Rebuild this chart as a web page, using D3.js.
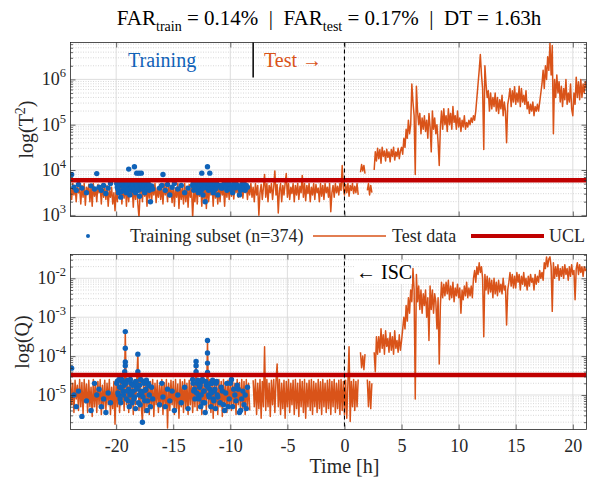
<!DOCTYPE html>
<html><head><meta charset="utf-8">
<script src="https://cdn.jsdelivr.net/npm/d3@7"></script>
<style>
body{margin:0;background:#fff}
svg text{font-family:"Liberation Serif","Tinos","DejaVu Serif",serif}
</style>
</head><body>
<svg id="chart" width="589" height="483" font-family="Liberation Serif, Tinos, DejaVu Serif, serif"></svg>
<script>
// ---- data (log10 values), one row per hour ----
const sampleStart = -24;      // h
const sampleStep = 0.1;       // h
const logT2 = [
3.62,3.35,3.7,3.45,3.65,3.3,3.68,3.5,3.6,3.25,
3.66,3.4,3.7,3.22,3.62,3.48,3.68,3.3,3.64,3.2,
3.7,3.42,3.6,3.3,3.68,3.5,3.64,3.25,3.7,3.4,
3.6,3.35,3.66,3.2,3.55,3.4,3.62,3.25,3.5,3.1,
3.6,3.3,3.68,3.45,3.7,3.25,3.64,3.38,3.7,3.2,
3.66,3.3,3.7,3.45,3.62,3.18,3.68,3.35,3.7,3.25,
2.95,3.5,3.68,3.3,3.7,3.42,3.62,3.2,3.66,3.38,
3.7,3.3,3.65,3.45,3.7,3.28,3.6,3.4,3.68,3.35,
3.62,3.25,3.7,3.45,3.66,3.3,3.7,3.4,3.6,3.28,
3.68,3.2,3.6,3.4,3.7,3.15,3.66,3.35,3.62,3.25,
3.7,3.3,3.64,3.18,3.68,3.4,3.6,2.96,3.5,3.3,
3.7,3.25,3.66,3.42,3.7,3.2,3.62,3.35,3.68,3.15,
3.7,3.3,3.62,3.45,3.68,3.2,3.7,3.38,3.6,3.25,
3.66,3.3,3.7,3.45,3.62,3.2,3.68,3.4,3.7,3.35,
3.65,3.42,3.7,3.36,3.66,3.5,3.7,3.4,3.62,3.45,
3.7,3.38,3.66,3.5,3.7,3.35,3.64,3.45,3.7,3.4,
3.62,3.3,3.7,3.45,3.66,3.0,3.5,3.68,3.35,3.62,
3.9,3.4,3.7,3.3,3.66,3.5,3.7,3.35,3.62,3.98,
3.45,3.68,3.05,3.55,3.7,3.3,3.66,3.45,3.7,3.92,
3.4,3.7,3.35,3.62,3.48,3.7,3.3,3.66,3.45,3.7,
3.35,3.64,3.5,3.88,3.4,3.7,3.32,3.66,3.48,3.7,
3.3,3.62,3.45,3.7,3.35,3.68,3.5,3.6,3.3,3.7,
3.42,3.66,3.35,3.7,3.5,3.62,3.4,3.7,3.08,3.5,
3.66,3.4,3.7,3.5,3.64,3.45,3.7,3.55,4.1,3.6,
3.45,3.68,3.5,3.7,3.42,3.66,3.55,3.7,3.48,3.64,
3.5,3.7,3.45,null,3.95,4.12,3.98,4.1,3.92,null,
3.55,3.7,3.45,3.66,3.5,null,4.0,4.4,4.2,4.48,
4.25,4.45,4.15,4.5,4.3,4.42,4.2,4.46,4.28,4.4,
4.18,4.45,4.3,4.5,4.22,4.4,4.3,4.48,4.25,4.42,
4.5,4.35,4.7,4.5,4.9,4.7,5.1,4.8,5.0,5.9,
5.5,5.2,3.9,5.85,5.3,5.0,5.25,4.8,5.15,4.9,
5.2,4.85,5.1,4.7,5.25,4.95,4.4,5.3,4.9,5.15,
4.8,5.0,4.6,4.1,4.95,5.3,4.9,5.35,5.0,5.2,
4.85,5.35,5.0,5.25,4.9,5.4,5.05,5.2,4.9,5.3,
4.95,5.15,4.85,5.1,4.95,5.2,4.9,5.05,4.95,5.1,
5.0,5.15,5.05,5.2,5.1,5.3,5.6,5.9,6.2,6.55,
6.1,5.8,4.45,6.3,5.9,5.6,5.75,5.3,5.7,5.35,
5.6,5.4,5.7,5.3,5.6,5.25,5.55,5.35,5.65,5.2,
5.5,5.3,4.6,5.45,5.6,5.8,5.4,5.75,5.5,5.84,
5.45,5.7,5.5,5.85,5.4,5.8,5.5,5.65,5.45,5.75,
5.35,5.5,5.25,5.45,5.3,5.5,5.2,5.4,5.3,5.45,
5.3,5.5,5.7,5.9,6.2,5.8,6.3,6.0,6.5,6.2,
6.8,6.1,6.75,4.8,6.0,5.6,6.1,5.7,5.95,5.5,
5.85,5.4,5.8,5.55,6.0,5.45,5.7,5.5,5.9,5.35,
5.2,5.7,5.45,6.05,5.6,5.95,5.55,6.0,5.6,5.9,
5.7,5.95,5.8
];
const logQ = [
-4.6,-5.25,-4.7,-5.45,-4.62,-5.1,-4.75,-5.4,-4.6,-5.3,
-4.68,-5.5,-4.6,-5.2,-4.72,-5.45,-4.62,-5.3,-4.8,-5.55,
-4.6,-5.3,-4.7,-5.45,-4.65,-5.25,-4.6,-5.5,-4.75,-5.35,
-4.62,-5.4,-4.7,-5.25,-4.6,-5.5,-4.8,-5.35,-4.65,-5.75,
-4.6,-5.3,-4.65,-5.45,-4.6,-5.2,-4.7,-5.4,-3.37,-5.25,
-4.62,-5.45,-4.6,-5.3,-4.7,-5.5,-4.6,-5.25,-4.65,-3.95,
-5.4,-4.62,-5.3,-5.7,-4.6,-5.45,-4.7,-5.3,-4.6,-5.5,
-4.65,-5.35,-4.6,-5.55,-4.7,-5.25,-4.62,-5.45,-4.75,-5.3,
-4.6,-5.5,-4.68,-5.3,-4.6,-5.85,-4.7,-5.4,-4.62,-5.25,
-4.65,-5.5,-4.6,-5.35,-4.72,-5.6,-4.6,-5.3,-4.66,-5.45,
-4.6,-5.35,-4.7,-5.5,-4.62,-5.25,-4.6,-5.45,-4.7,-5.3,
-4.1,-5.4,-4.62,-5.3,-4.6,-5.5,-4.7,-5.25,-4.62,-5.4,
-3.6,-5.3,-4.6,-5.45,-4.7,-5.6,-4.62,-5.35,-4.66,-5.5,
-4.6,-5.3,-4.65,-5.55,-4.6,-5.25,-4.7,-5.45,-4.62,-5.35,
-4.65,-5.4,-4.6,-5.3,-4.7,-5.5,-4.6,-5.25,-4.68,-5.45,
-4.6,-5.35,-4.65,-5.5,-4.6,-5.3,-4.7,-5.4,null,null,
-4.62,-5.3,-4.6,-5.5,-4.7,-5.35,-4.6,-5.6,-4.65,-5.3,
-3.76,-5.4,-4.6,-5.3,-4.7,-5.55,-4.62,-5.25,-4.6,-5.45,
-4.65,-4.2,-5.3,-4.6,-5.5,-4.7,-5.35,-4.62,-5.6,-4.65,
-5.3,-4.6,-5.45,-4.7,-5.25,-4.62,-5.5,-4.6,-5.35,-4.7,
-5.55,-4.6,-5.3,-4.65,-5.45,-4.6,-5.6,-4.7,-5.3,-4.62,
-5.4,-4.6,-5.5,-4.65,-5.3,-4.7,-5.45,-4.6,-5.35,-4.66,
-5.5,-4.6,-5.3,-4.7,-5.45,-4.62,-5.35,-4.6,-5.5,-4.65,
-5.3,-4.6,-5.45,-4.7,-5.35,-4.62,-5.5,-4.6,-5.4,-4.65,
-5.5,-4.62,-5.6,-4.7,-3.76,-5.68,-4.65,-5.3,-4.6,-5.4,
-4.65,-5.3,-4.6,null,-3.9,-4.3,-4.0,-4.35,-3.95,null,
-4.6,-5.3,-4.65,-5.35,-4.7,null,-3.9,-4.4,-3.5,-3.95,
-3.5,-3.9,-3.3,-3.8,-3.45,-3.95,-3.35,-3.75,-3.55,-3.9,
-3.4,-3.85,-3.5,-3.95,-3.35,-3.8,-3.6,-3.9,-3.45,-3.85,
-3.6,-3.3,-3.0,-3.3,-2.7,-3.1,-2.5,-2.9,-2.3,-2.6,
-1.75,-2.3,-5.1,-1.9,-2.6,-2.2,-2.8,-2.3,-2.9,-2.4,
-2.7,-2.3,-3.0,-2.5,-3.6,-2.2,-2.8,-2.3,-2.9,-2.4,
-2.6,-3.3,-2.5,-4.2,-2.7,-2.1,-2.5,-2.15,-2.45,-2.1,
-2.4,-2.05,-2.55,-2.2,-2.5,-2.1,-2.6,-2.25,-2.45,-2.15,
-2.5,-2.25,-2.9,-2.3,-2.55,-2.2,-2.45,-2.1,-2.5,-2.25,
-2.45,-2.2,-2.5,-2.0,-1.8,-2.1,-1.7,-1.9,-1.6,-1.85,
-1.7,-2.0,-3.5,-1.9,-2.3,-1.95,-2.4,-2.0,-2.35,-2.05,
-2.5,-2.0,-2.4,-2.1,-2.45,-2.05,-2.35,-2.15,-2.4,-2.0,
-2.3,-2.2,-3.2,-2.3,-2.1,-1.85,-2.2,-1.9,-2.25,-1.95,
-2.25,-1.85,-2.1,-1.9,-2.3,-1.95,-2.15,-1.85,-2.2,-2.0,
-2.3,-1.95,-2.2,-1.9,-2.1,-2.0,-2.3,-1.9,-2.15,-1.95,
-2.1,-1.8,-2.0,-1.85,-2.05,-1.6,-1.75,-1.45,-1.7,-1.5,
-1.45,-1.7,-2.85,-1.6,-2.0,-1.7,-1.95,-1.65,-2.05,-1.75,
-1.95,-1.7,-2.0,-1.65,-1.9,-1.75,-2.05,-1.7,-1.95,-1.65,
-1.9,-1.8,-2.55,-1.75,-1.6,-1.9,-1.65,-1.85,-1.7,-1.95,
-1.7,-1.8,-1.75
];
const trainTime = [
-23.9,-23.7,-23.5,-23.3,-23.0,-22.6,-22.2,-21.9,-21.7,-21.5,-21.3,-21.1,-20.9,-20.7,-20.5,
-19.9,-19.8,-19.7,-19.6,-19.5,-19.4,-19.3,-19.25,-19.2,-19.2,-19.2,-19.2,-19.1,-19.0,-18.9,-18.85,-18.8,-18.7,-18.6,-18.5,-18.4,-18.35,-18.3,-18.2,-18.1,-18.1,-18.0,-17.95,-17.9,-17.8,-17.7,-17.6,-17.5,-17.4,-17.3,-17.2,-17.1,-17.0,-16.9,-16.8,
-16.2,-16.0,-15.9,-15.7,-15.5,-15.3,-15.1,-14.9,-14.6,-14.3,-14.0,-13.7,
-13.3,-13.2,-13.1,-13.0,-13.0,-13.0,-12.9,-12.8,-12.7,-12.6,-12.5,-12.4,-12.3,-12.2,-12.1,-12.0,-12.0,-12.0,-12.0,-11.9,-11.8,-11.7,-11.6,-11.5,-11.4,-11.3,-11.2,-11.1,
-10.9,-10.7,-10.5,-10.3,-10.1,-9.9,-9.8,-9.7,-9.6,-9.4,-9.2,-9.0,-8.9,-8.8,-8.7,-8.6,-8.5,
-19.95,-19.85,-19.75,-19.65,-19.55,-19.45,-19.35,-19.15,-19.05,-18.95,-18.75,-18.65,-18.55,-18.45,-18.25,-18.15,-18.05,-17.85,-17.75,-17.65,-17.55,-17.45,-17.35,-17.25,-17.15,
-13.25,-13.15,-12.95,-12.85,-12.75,-12.65,-12.55,-12.45,-12.35,-12.25,-12.15,-11.95,-11.85,-11.75,-11.65,-11.55,-11.45,-11.35,-11.25,-11.15,
-10.8,-10.6,-10.4,-10.2,-10.0,-9.5,-9.3,-9.1
];
const trainLogT2 = [
3.9,3.62,3.55,3.68,3.6,3.5,3.65,3.58,3.92,3.62,3.55,3.66,3.48,3.6,3.7,
3.62,3.5,3.68,3.4,3.66,3.55,3.7,3.6,3.65,3.62,3.58,3.69,3.5,3.7,4.02,3.6,3.45,3.68,3.55,3.7,4.07,3.62,3.5,3.93,3.66,3.6,3.93,3.42,3.7,3.93,3.58,3.66,3.5,3.7,3.6,3.68,3.55,3.3,3.65,3.58,
3.6,3.66,3.9,3.55,3.68,3.45,3.62,3.7,3.58,3.66,3.5,3.6,
3.66,3.55,3.7,3.6,3.64,3.58,3.68,3.5,3.7,3.6,3.93,3.45,3.66,3.3,3.62,4.07,3.68,3.6,3.7,3.55,3.93,3.6,3.68,3.5,3.66,3.58,3.7,3.45,
3.66,3.6,3.7,3.55,3.68,3.62,3.5,3.7,3.6,3.66,3.45,3.68,3.6,3.7,3.55,3.66,3.62,
3.7,3.58,3.64,3.7,3.52,3.68,3.62,3.66,3.7,3.56,3.7,3.62,3.68,3.58,3.7,3.64,3.55,3.68,3.7,3.6,3.66,3.56,3.7,3.62,3.68,
3.7,3.62,3.58,3.7,3.64,3.68,3.55,3.7,3.6,3.66,3.7,3.62,3.68,3.58,3.7,3.62,3.55,3.68,3.6,3.66,
3.6,3.68,3.62,3.7,3.58,3.7,3.62,3.55
];
const trainLogQ = [
-4.31,-5.0,-5.3,-4.9,-5.55,-5.15,-5.4,-4.7,-5.0,-4.85,-5.3,-5.1,-5.45,-4.95,-5.2,
-4.65,-5.0,-4.8,-5.2,-4.6,-4.9,-4.75,-4.4,-3.37,-3.8,-4.15,-4.25,-5.1,-4.62,-4.85,-5.3,-5.0,-4.7,-5.2,-4.9,-5.05,-4.68,-5.35,-4.8,-3.95,-4.4,-5.0,-4.75,-5.25,-4.9,-5.7,-4.65,-5.15,-4.85,-5.4,-4.7,-5.0,-5.3,-4.8,-5.1,
-5.25,-4.7,-5.05,-5.3,-4.85,-5.15,-4.9,-5.4,-5.0,-5.2,-4.8,-5.35,
-4.6,-4.9,-5.1,-4.14,-4.25,-4.4,-4.7,-5.0,-4.8,-5.3,-4.65,-5.2,-4.9,-5.45,-4.75,-3.6,-3.92,-4.18,-4.42,-5.0,-4.85,-5.3,-4.7,-5.1,-4.9,-5.35,-4.65,-5.05,
-5.2,-4.9,-5.4,-4.7,-5.1,-4.6,-5.3,-4.85,-5.0,-4.75,-5.45,-5.1,-4.9,-5.25,-5.0,-5.35,-4.8,
-4.7,-4.95,-4.6,-5.1,-4.8,-4.65,-5.0,-4.7,-4.9,-5.15,-4.6,-4.95,-4.75,-5.1,-4.65,-4.85,-5.2,-4.6,-4.95,-5.05,-4.7,-4.88,-4.62,-5.15,-4.75,
-4.7,-4.85,-4.95,-4.62,-5.1,-4.75,-5.0,-4.6,-4.9,-5.2,-4.65,-4.8,-5.05,-4.7,-4.95,-4.62,-5.15,-4.85,-4.7,-5.0,
-4.8,-5.25,-4.95,-5.3,-4.7,-5.15,-4.85,-5.4
];
const uclT2 = 5960;
const uclQ = 3.27e-5;
const xTicksTop = [-20,-10,0,10,20];
const xTicksBottom = [-20,-15,-10,-5,0,5,10,15,20];
const yExpTop = [3,4,5,6];
const yExpBottom = [-5,-4,-3,-2];

// ---- drawing ----
const FONT = "Liberation Serif, Tinos, DejaVu Serif, serif";
const C_ORANGE = "#d95319", C_BLUE = "#0f62b8", C_UCL = "#c00000", C_AX = "#262626";
const svg = d3.select("#chart");
const xL = 70.5, xR = 586.5;
const x = d3.scaleLinear().domain([-24, 21.2]).range([xL, xR]);

const panels = [
  {top:42.5, bottom:216.5, domain:[Math.pow(10,2.973), Math.pow(10,6.815)], line:logT2, dots:trainLogT2,
   ucl:uclT2, xticks:xTicksTop, showX:false, yExp:yExpTop, label:["log(T","2",")"], labelX:33},
  {top:254.5, bottom:429.5, domain:[Math.pow(10,-5.887), Math.pow(10,-1.388)], line:logQ, dots:trainLogQ,
   ucl:uclQ, xticks:xTicksBottom, showX:true, yExp:yExpBottom, label:["log(Q)"], labelX:29}
];

panels.forEach((p, idx) => {
  const y = d3.scaleLog().domain(p.domain).range([p.bottom, p.top]);
  const clipId = "clip" + idx;
  svg.append("clipPath").attr("id", clipId).append("rect")
    .attr("x", xL).attr("y", p.top).attr("width", xR - xL).attr("height", p.bottom - p.top);
  const g = svg.append("g");
  const lo = p.domain[0], hi = p.domain[1];
  const major = [], minor = [];
  for (let e = Math.floor(Math.log10(lo)); e <= Math.ceil(Math.log10(hi)); e++) {
    for (let k = 1; k <= 9; k++) {
      const v = k * Math.pow(10, e);
      if (v >= lo && v <= hi) (k === 1 ? major : minor).push(v);
    }
  }
  // grid
  g.selectAll(".mg").data(minor).join("line")
    .attr("x1", xL).attr("x2", xR).attr("y1", d => y(d)).attr("y2", d => y(d))
    .attr("stroke", "#bdbdbd").attr("stroke-width", 0.6).attr("stroke-dasharray", "1,1.5");
  g.selectAll(".Mg").data(major).join("line")
    .attr("x1", xL).attr("x2", xR).attr("y1", d => y(d)).attr("y2", d => y(d))
    .attr("stroke", "#d6d6d6").attr("stroke-width", 0.8);
  g.selectAll(".vg").data(p.xticks).join("line")
    .attr("x1", d => x(d)).attr("x2", d => x(d)).attr("y1", p.top).attr("y2", p.bottom)
    .attr("stroke", "#d6d6d6").attr("stroke-width", 0.8);

  const plot = svg.append("g").attr("clip-path", `url(#${clipId})`);
  const data = p.line.map((v, i) => ({t: sampleStart + sampleStep * i, v}));
  plot.append("path").datum(data)
    .attr("d", d3.line().defined(d => d.v !== null).x(d => x(d.t)).y(d => y(Math.pow(10, d.v))))
    .attr("fill", "none").attr("stroke", C_ORANGE).attr("stroke-width", 1.5).attr("stroke-linejoin", "round");
  plot.selectAll(".dot").data(p.dots).join("circle")
    .attr("cx", (d, i) => x(trainTime[i])).attr("cy", d => y(Math.pow(10, d))).attr("r", 2.7)
    .attr("fill", C_BLUE);
  plot.append("line").attr("x1", xL).attr("x2", xR).attr("y1", y(p.ucl)).attr("y2", y(p.ucl))
    .attr("stroke", C_UCL).attr("stroke-width", 4.5);
  plot.append("line").attr("x1", x(0)).attr("x2", x(0)).attr("y1", p.top).attr("y2", p.bottom)
    .attr("stroke", "#000").attr("stroke-width", 1.1).attr("stroke-dasharray", "4,3");

  // axes (ticks inside)
  const ax = svg.append("g").attr("class", "axes");
  const bAx = ax.append("g").attr("transform", `translate(0,${p.bottom})`)
    .call(d3.axisBottom(x).tickValues(p.xticks).tickSize(-5).tickPadding(9.5)
      .tickFormat(p.showX ? (d => d < 0 ? "-" + Math.abs(d) : String(d)) : ""));
  ax.append("g").attr("transform", `translate(0,${p.top})`)
    .call(d3.axisTop(x).tickValues(p.xticks).tickSize(-5).tickFormat(""));
  ax.append("g").attr("transform", `translate(${xL},0)`)
    .call(d3.axisLeft(y).tickValues(major).tickSize(-5).tickFormat(""));
  ax.append("g").attr("transform", `translate(${xL},0)`)
    .call(d3.axisLeft(y).tickValues(minor).tickSize(-2.5).tickFormat(""));
  ax.append("g").attr("transform", `translate(${xR},0)`)
    .call(d3.axisRight(y).tickValues(major).tickSize(-5).tickFormat(""));
  ax.append("g").attr("transform", `translate(${xR},0)`)
    .call(d3.axisRight(y).tickValues(minor).tickSize(-2.5).tickFormat(""));
  ax.selectAll(".domain").remove();
  ax.selectAll("g").attr("font-family", FONT);
  ax.selectAll(".tick line").attr("stroke", C_AX).attr("stroke-width", 0.7);
  bAx.selectAll("text").attr("font-size", 18).attr("fill", C_AX).attr("font-family", FONT);
  ax.append("rect").attr("x", xL).attr("y", p.top).attr("width", xR - xL).attr("height", p.bottom - p.top)
    .attr("fill", "none").attr("stroke", C_AX).attr("stroke-width", 0.8);

  // y tick labels
  p.yExp.forEach(e => {
    const t = svg.append("text").attr("x", 66).attr("y", y(Math.pow(10, e)) + 6)
      .attr("text-anchor", "end").attr("font-size", 18).attr("fill", C_AX).attr("font-family", FONT);
    t.append("tspan").text("10");
    t.append("tspan").attr("dy", -8).attr("font-size", 12.5).text(e);
  });
  // y label
  const lab = svg.append("text")
    .attr("transform", `translate(${p.labelX},${(p.top + p.bottom) / 2}) rotate(-90)`)
    .attr("text-anchor", "middle").attr("font-size", 20).attr("fill", C_AX).attr("font-family", FONT);
  lab.append("tspan").text(p.label[0]);
  if (p.label.length > 1) {
    lab.append("tspan").attr("dy", -8).attr("font-size", 14).text(p.label[1]);
    lab.append("tspan").attr("dy", 8).text(p.label[2]);
  }
});

// annotations
svg.append("text").attr("x", 128).attr("y", 67).attr("font-size", 20).attr("fill", C_BLUE).attr("font-family", FONT).text("Training");
svg.append("text").attr("x", 264).attr("y", 67).attr("font-size", 20).attr("fill", C_ORANGE).attr("font-family", FONT).text("Test \u2192");
svg.append("line").attr("x1", x(-8)).attr("x2", x(-8)).attr("y1", 42.5).attr("y2", 77.5)
  .attr("stroke", "#000").attr("stroke-width", 1.5);
svg.append("rect").attr("x", 354).attr("y", 262).attr("width", 58).attr("height", 22).attr("fill", "#fff");
svg.append("text").attr("x", 356).attr("y", 279).attr("font-size", 20).attr("fill", "#000").attr("font-family", FONT).text("\u2190 ISC");

// title
const title = svg.append("text").attr("x", 329).attr("y", 25).attr("text-anchor", "middle")
  .attr("font-size", 21).attr("fill", "#000").attr("font-family", FONT).style("white-space", "pre");
title.append("tspan").text("FAR");
title.append("tspan").attr("dy", 6).attr("font-size", 14).text("train");
title.append("tspan").attr("dy", -6).text(" = 0.14%  |  FAR");
title.append("tspan").attr("dy", 6).attr("font-size", 14).text("test");
title.append("tspan").attr("dy", -6).text(" = 0.17%  |  DT = 1.63h");

// x label
svg.append("text").attr("x", x(0)).attr("y", 473).attr("text-anchor", "middle")
  .attr("font-size", 20).attr("fill", C_AX).attr("font-family", FONT).text("Time [h]");

// legend
const lg = svg.append("g").attr("font-family", FONT);
lg.append("circle").attr("cx", 88).attr("cy", 236).attr("r", 2).attr("fill", C_BLUE);
lg.append("text").attr("x", 130).attr("y", 242).attr("font-size", 18).attr("fill", C_AX).text("Training subset (n=374)");
lg.append("line").attr("x1", 313).attr("x2", 386).attr("y1", 236).attr("y2", 236).attr("stroke", C_ORANGE).attr("stroke-width", 1.5);
lg.append("text").attr("x", 392).attr("y", 242).attr("font-size", 18).attr("fill", C_AX).text("Test data");
lg.append("line").attr("x1", 471).attr("x2", 544).attr("y1", 236).attr("y2", 236).attr("stroke", C_UCL).attr("stroke-width", 4);
lg.append("text").attr("x", 549).attr("y", 242).attr("font-size", 18).attr("fill", C_AX).text("UCL");
</script>
</body></html>
